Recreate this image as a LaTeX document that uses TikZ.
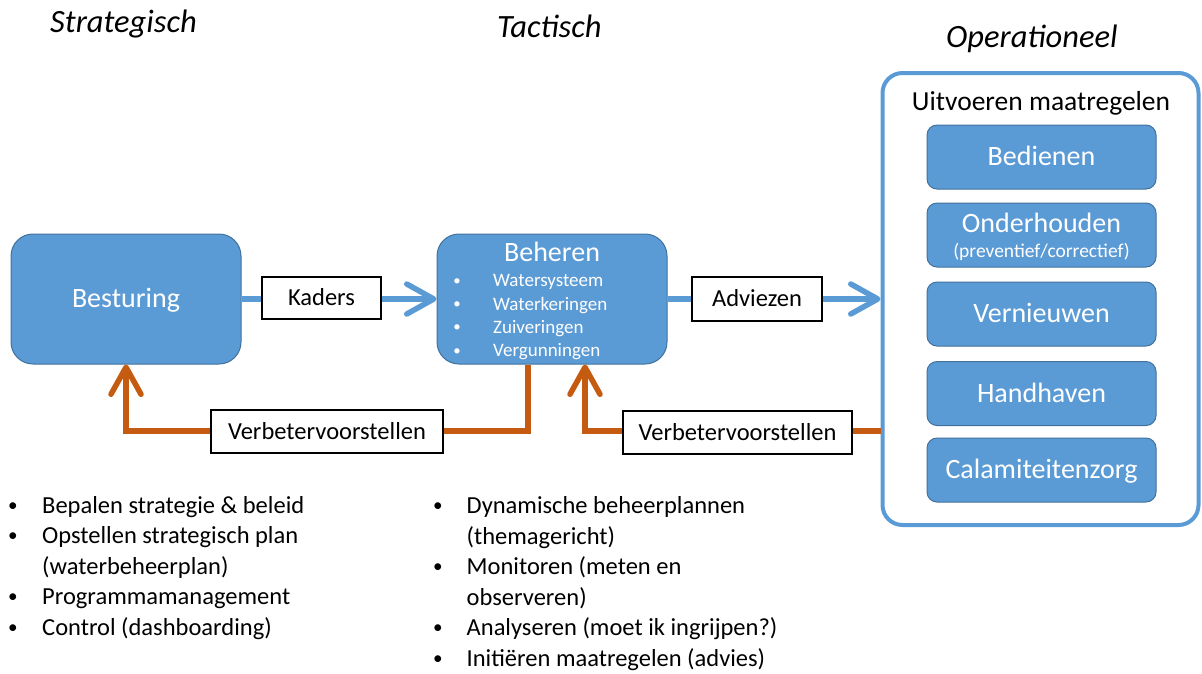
\documentclass[tikz,border=0pt]{standalone}
\usepackage{fontspec}
\setmainfont{Carlito}
\usetikzlibrary{arrows.meta}
\definecolor{accblue}{HTML}{5B9BD5}
\definecolor{accedge}{HTML}{41719C}
\definecolor{accorange}{HTML}{C55A11}
\newcommand{\dotmark}{\raisebox{0.08em}{\scalebox{0.78}{•}}}

\begin{document}
\begin{tikzpicture}[x=1pt,y=-1pt,
  % font sizes with a fixed text box so that labels sit alike in their boxes
  big/.style={font=\fontsize{28}{28}\selectfont, text height=22.4pt, text depth=4.5pt},
  mid/.style={font=\fontsize{24.5}{24.5}\selectfont, text height=19.6pt, text depth=3.9pt},
  small/.style={font=\fontsize{19}{19}\selectfont},
  head/.style={font=\fontsize{32.5}{32.5}\selectfont\itshape, anchor=base west, inner sep=0pt},
  bluebox/.style={draw=accedge, line width=1pt, fill=accblue, rounded corners=#1,
    text=white, inner sep=0pt},
  actbox/.style={bluebox=10pt, minimum width=229, minimum height=64, big},
  labelbox/.style={draw=black, line width=1.2pt, fill=white, inner sep=0pt, mid},
  feed/.style={draw=accblue, line width=5.5pt,
    -{Straight Barb[length=27pt,width=30pt,round]}},
  back/.style={draw=accorange, line width=5.5pt,
    -{Straight Barb[length=27pt,width=30pt,round]}},
  blt/.style={anchor=base, inner sep=0pt},
  itm/.style={anchor=base west, inner sep=0pt},
  lst/.style={font=\fontsize{24.5}{24.5}\selectfont},
]
\useasboundingbox (0,0) rectangle (1202,673);

% column headings
\node[head] (hs) at (50,32) {Strategisch};
\node[head] (ht) at (497,37) {Tactisch};
\node[head] (ho) at (946,47) {Operationeel};

% strategic level
\node[bluebox=22pt, minimum width=230, minimum height=130, big] (besturing) at (126,299) {Besturing};

% tactical level
\node[bluebox=22pt, minimum width=230, minimum height=130] (beheren) at (552,299) {};
\node[font=\fontsize{28}{28}\selectfont, text=white, anchor=base, inner sep=0pt] (behtitle) at (552,261) {Beheren};
\begin{scope}[small, text=white]
  \node[blt] (bb1) at (457,286.7) {\dotmark};
  \node[itm] (bt1) at (493,286.7) {Watersysteem};
  \node[blt] (bb2) at (457,310) {\dotmark};
  \node[itm] (bt2) at (493,310) {Waterkeringen};
  \node[blt] (bb3) at (457,333.3) {\dotmark};
  \node[itm] (bt3) at (493,333.3) {Zuiveringen};
  \node[blt] (bb4) at (457,356.7) {\dotmark};
  \node[itm] (bt4) at (493,356.7) {Vergunningen};
\end{scope}

% operational level
\node[draw=accblue, line width=4pt, fill=white, rounded corners=20pt,
  minimum width=316, minimum height=452, inner sep=0pt] (ops) at (1040.5,299) {};
\node[font=\fontsize{27.5}{27.5}\selectfont, anchor=base, inner sep=0pt] (opstitle) at (1041,110.7) {Uitvoeren maatregelen};
\node[actbox] (bedienen) at (1041.5,157) {Bedienen};
\node[actbox] (onderhouden) at (1041.5,235) {};
\node[font=\fontsize{28}{28}\selectfont, text=white, anchor=base, inner sep=0pt] (ondtitle) at (1041.5,232.7) {Onderhouden};
\node[font=\fontsize{19.5}{19.5}\selectfont, text=white, anchor=base, inner sep=0pt] (ondsub) at (1041.5,257) {(preventief/correctief)};
\node[actbox] (vernieuwen) at (1041.5,314) {Vernieuwen};
\node[actbox] (handhaven) at (1041.5,393.5) {Handhaven};
\node[actbox] (calamiteit) at (1041.5,470) {Calamiteitenzorg};

% forward flow
\draw[feed] (besturing) -- (beheren);
\draw[feed] (beheren) -- (ops);

% feedback loops
\coordinate (fbline) at (0,431);
\draw[back] ([xshift=-24pt]beheren.south) |- (besturing.south |- fbline) -- (besturing.south);
\draw[back] (ops.west |- fbline) -| ([xshift=33pt]beheren.south);

% labels on the connectors
\node[labelbox, minimum width=119, minimum height=42] (kaders) at (321.5,298) {Kaders};
\node[labelbox, minimum width=130, minimum height=44] (adviezen) at (757,299) {Adviezen};
\node[labelbox, minimum width=232, minimum height=43] (vv1) at (327,431.5) {Verbetervoorstellen};
\node[labelbox, minimum width=229, minimum height=43] (vv2) at (737.5,432.5) {Verbetervoorstellen};

% strategic tasks
\begin{scope}[lst]
  \node[blt] (sb1) at (13,513) {\dotmark};
  \node[itm] (st1) at (42,513) {Bepalen strategie \& beleid};
  \node[blt] (sb2) at (13,543.5) {\dotmark};
  \node[itm] (st2) at (42,543.5) {Opstellen strategisch plan};
  \node[itm] (st2b) at (42,574) {(waterbeheerplan)};
  \node[blt] (sb3) at (13,604.5) {\dotmark};
  \node[itm] (st3) at (42,604.5) {Programmamanagement};
  \node[blt] (sb4) at (13,635) {\dotmark};
  \node[itm] (st4) at (42,635) {Control (dashboarding)};
\end{scope}

% tactical tasks
\begin{scope}[lst]
  \node[blt] (tb1) at (438,513.5) {\dotmark};
  \node[itm] (tt1) at (466.5,513.5) {Dynamische beheerplannen};
  \node[itm] (tt1b) at (466.5,544) {(themagericht)};
  \node[blt] (tb2) at (438,574.5) {\dotmark};
  \node[itm] (tt2) at (466.5,574.5) {Monitoren (meten en};
  \node[itm] (tt2b) at (466.5,605) {observeren)};
  \node[blt] (tb3) at (438,635.5) {\dotmark};
  \node[itm] (tt3) at (466.5,635.5) {Analyseren (moet ik ingrijpen?)};
  \node[blt] (tb4) at (438,666) {\dotmark};
  \node[itm] (tt4) at (466.5,666) {Initiëren maatregelen (advies)};
\end{scope}
\end{tikzpicture}
\end{document}
